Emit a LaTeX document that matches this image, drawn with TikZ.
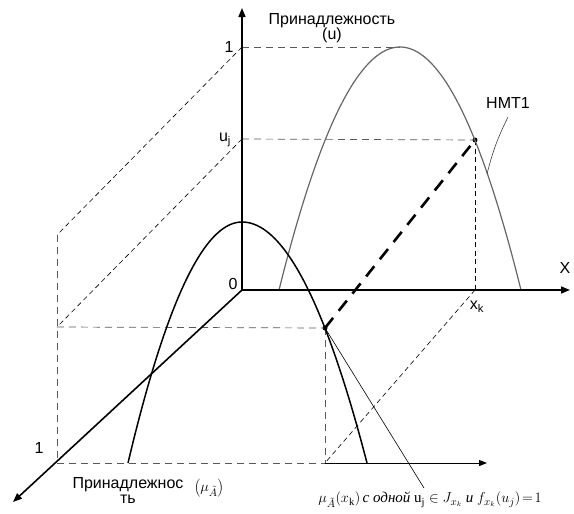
\documentclass[tikz,border=0pt]{standalone}
\usepackage{fontspec}
\setmainfont{Liberation Serif}
\setsansfont{Liberation Sans}
\usetikzlibrary{arrows.meta}
\tikzset{
  axis/.style={line width=1.6pt, -{Triangle[length=9pt,width=7pt]}},
  guide/.style={draw=black!65, line width=0.7pt, dash pattern=on 7pt off 5pt},
  diag/.style={draw=black, line width=0.6pt, dash pattern=on 5pt off 3.5pt},
  bolddash/.style={line width=2.6pt, dash pattern=on 13pt off 9pt},
  graycurve/.style={draw=black!60, line width=1.2pt},
  blackcurve/.style={draw=black, line width=1.5pt},
  lbl/.style={font=\sffamily\fontsize{16}{17}\selectfont, inner sep=1pt},
  dot/.style={circle, fill=black, inner sep=0pt, minimum size=5pt}
}
\begin{document}
\begin{tikzpicture}[x=1pt,y=-1pt]
\useasboundingbox (0,0) rectangle (574,514);
% key coordinates
\coordinate (O) at (242,290);
\coordinate (Ytop) at (242,8);
\coordinate (Xend) at (570,290);
\coordinate (Zend) at (13,502);
\coordinate (Y1) at (242,47);
\coordinate (Yu) at (242,139);
\coordinate (Peak) at (400,47);
\coordinate (Xk) at (475,290);
\coordinate (L1) at (57,235);
\coordinate (L2) at (57,327);
\coordinate (L3) at (57,463);
\coordinate (B3) at (325,463);
\coordinate (Bend) at (487,463);
\node[dot] (A) at (475,140) {};
\node[dot] (B) at (325,328) {};

% dashed guides
\draw[guide] (Y1) -- (Peak);
\draw[guide] (Yu) -- (A.center);
\draw[guide] (L2) -- (B.center);
\draw[guide] (L3) -- (B3);
\draw[guide] (L1) -- (L3);
\draw[guide] (B.center) -- (B3);
\draw[diag] (A.center) -- (Xk);
\draw[diag] (Y1) -- (L1);
\draw[diag] (Yu) -- (L2);
\draw[diag] (Xk) -- (B3);

% curves
\draw[graycurve] plot[domain=279:521, samples=80] (\x, {290 - 243*(1-((\x-400)/121)^2)});
\draw[blackcurve] plot[domain=128:242, samples=50] (\x, {222 + 241*((\x-242)/114)^2});
\draw[blackcurve] plot[domain=242:367, samples=50] (\x, {222 + 241*((\x-242)/125)^2});

% axes
\draw[axis] (O) -- (Ytop);
\draw[axis] (O) -- (Xend);
\draw[axis] (O) -- (Zend);
\draw[line width=1pt, -{Triangle[length=8pt,width=6pt]}] (B3) -- (Bend);

% bold dashed
\draw[bolddash] (B.center) -- (A.center);

% leader lines
\node[lbl] (hmt) at (508,103) {НМТ1};
\draw[black!75, line width=0.6pt] (508,117) to[bend right=6] (487,174);
\node[inner sep=1pt] (formula) at (430,500) {\fontsize{15}{16}\selectfont
  $\mu_{\tilde A}\!\left(x_{\mathrm k}\right)$\,{\itshape с одной} $\mathrm{u}_{\mathrm j}\in J_{x_k}$ {\itshape и} $f_{x_k}\!\left(u_j\right)\!=\!1$};
\draw[line width=0.6pt] (B.center) -- (424,488);

% labels
\node[lbl, align=center] (ytitle) at (332,28) {Принадлежность\\[-2pt](u)};
\node[lbl] (one) at (229,47) {1};
\node[lbl] (uj) at (225,140) {u\textsubscript{j}};
\node[lbl] (zero) at (233,284) {0};
\node[lbl] (xlab) at (565,268) {X};
\node[lbl] (xk) at (477,307) {x\textsubscript{k}};
\node[lbl] (onez) at (39,448) {1};
\node[lbl, align=center] (ztitle) at (128,490) {Принадлежнос\\[-2pt]ть};
\node[inner sep=0pt] (mu) at (209,488) {\fontsize{15}{16}\selectfont$\left(\mu_{\tilde A}\right)$};
\end{tikzpicture}
\end{document}
